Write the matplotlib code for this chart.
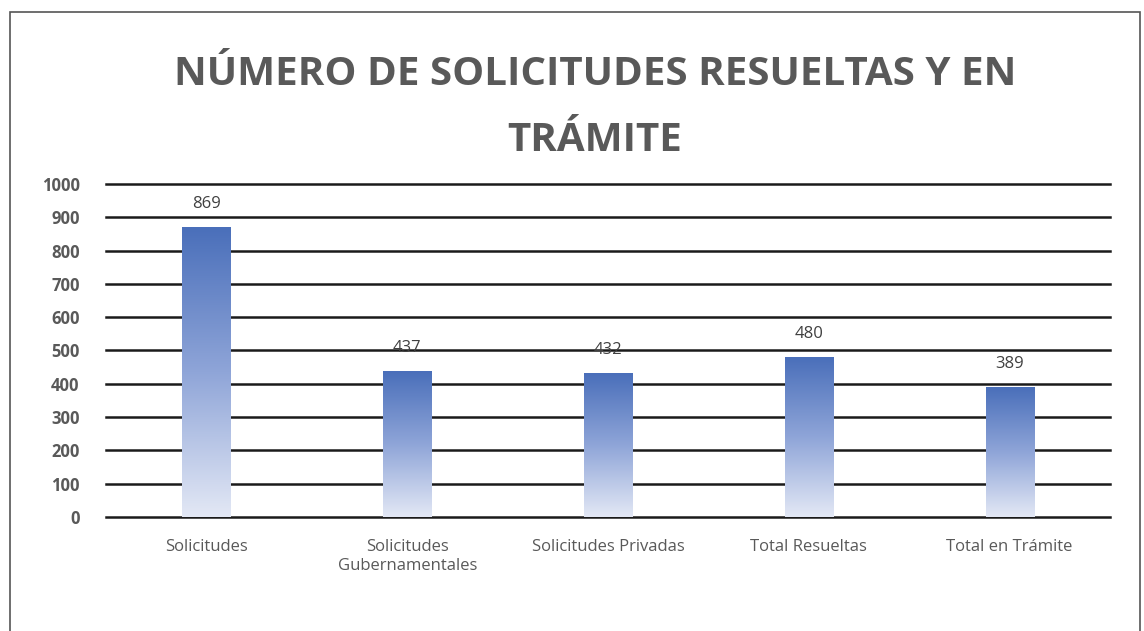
import numpy as np
import matplotlib
matplotlib.use("Agg")
import matplotlib.pyplot as plt
from matplotlib.colors import LinearSegmentedColormap
from matplotlib.patches import Rectangle

# datos
categorias = ["Solicitudes", "Solicitudes\nGubernamentales", "Solicitudes Privadas",
              "Total Resueltas", "Total en Trámite"]
valores = [869, 437, 432, 480, 389]
yticks = [0, 100, 200, 300, 400, 500, 600, 700, 800, 900, 1000]

plt.rcParams['font.family'] = ['Open Sans', 'DejaVu Sans']

fig = plt.figure(figsize=(11.44, 6.31), dpi=100)
ax = fig.add_axes([0.0927, 0.1807, 0.8776, 0.5277])

# degradado azul de arriba hacia abajo
cmap = LinearSegmentedColormap.from_list("azul", ["#e3e8f5", "#8fa5d8", "#4a6fba"])
grad = np.linspace(0, 1, 256).reshape(-1, 1)
ancho = 0.24

x = np.arange(len(categorias))
for xi, v in zip(x, valores):
    ax.imshow(grad, cmap=cmap, origin='lower', aspect='auto',
              extent=[xi - ancho / 2, xi + ancho / 2, 0, v], zorder=3)
    ax.annotate(str(v), (xi, v), xytext=(0, 11), textcoords='offset points',
                ha='center', va='bottom', fontsize=12, color='#404040', zorder=4)

ax.set_xlim(-0.5, len(categorias) - 0.5)
ax.set_ylim(0, 1000)
ax.set_yticks(yticks)
ax.set_xticks(x)
ax.set_xticklabels(categorias, fontsize=12, color='#595959')
ax.tick_params(axis='y', length=0, pad=19, labelsize=12, labelcolor='#595959')
ax.tick_params(axis='x', length=0, pad=16)
for t in ax.get_yticklabels():
    t.set_fontweight('bold')

for y in yticks:
    ax.axhline(y, color='#1a1a1a', linewidth=1.8, zorder=1, clip_on=False)
for s in ax.spines.values():
    s.set_visible(False)

fig.text(0.52, 0.882, "NÚMERO DE SOLICITUDES RESUELTAS Y EN", ha='center', va='center',
         fontsize=29, fontweight='bold', color='#595959')
fig.text(0.52, 0.778, "TRÁMITE", ha='center', va='center',
         fontsize=29, fontweight='bold', color='#595959')

# marco
fig.patches.append(Rectangle((10 / 1144, -0.05), 1130 / 1144, 1.05 - 12 / 631,
                             transform=fig.transFigure, fill=False,
                             edgecolor='#555555', linewidth=1.2))

fig.savefig("out.png", dpi=100)
